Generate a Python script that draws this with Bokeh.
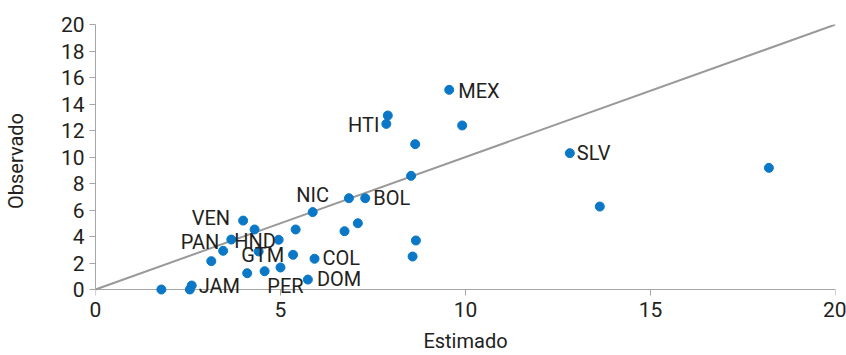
from bokeh.plotting import figure
from bokeh.models import ColumnDataSource, Range1d, FixedTicker
from bokeh.core.properties import value
from bokeh.embed import file_html
from bokeh.resources import INLINE

# ---- data ----
estimado = [1.78, 2.55, 2.60, 3.13, 3.45, 3.67, 3.99, 4.30, 4.41, 4.95, 5.41, 5.34,
            4.10, 4.57, 5.00, 5.74, 5.87, 5.92, 6.73, 7.09, 6.85, 7.29, 8.53, 8.66,
            8.57, 9.56, 7.90, 7.86, 9.91, 8.64, 12.82, 13.63, 18.20]
observado = [0.00, 0.00, 0.30, 2.14, 2.92, 3.77, 5.20, 4.53, 2.87, 3.75, 4.53, 2.62,
             1.23, 1.38, 1.66, 0.75, 5.84, 2.32, 4.40, 5.00, 6.89, 6.89, 8.58, 3.70,
             2.49, 15.07, 13.13, 12.50, 12.38, 10.97, 10.29, 6.26, 9.18]

label_names = ["MEX", "HTI", "SLV", "NIC", "BOL", "VEN", "PAN", "HND", "GTM", "COL", "DOM", "PER", "JAM"]
label_point = [25, 27, 30, 16, 21, 6, 5, 5, 8, 17, 15, 14, 2]

x_ticks = [0, 5, 10, 15, 20]
y_ticks = [0, 2, 4, 6, 8, 10, 12, 14, 16, 18, 20]
x_min, x_max = 0, 20
y_min, y_max = 0, 20
diag = [0, 20]

# ---- label styling (pixel offsets / alignment) ----
label_dx = [9, -7, 7, 0, 8, -13, -12, 3, 4, 8, 9, 5, 7]
label_dy = [1, 1, 0, -17, 0, -3, 2, 1, 4, -1, -1, 18, 0]
label_align = ["left", "right", "left", "center", "left", "right", "right", "left",
               "center", "left", "left", "center", "left"]

FONT = "Roboto"
BLUE = "#0A78C6"
AXIS = "#A6A6A6"
TEXT = "#231F20"

PX_PER_Y = 265 / (y_max - y_min)      # frame pixels per y unit
PAD_PX = 8                            # room below zero so marks on the axis are not clipped
TICK_PX = 6
y_pad = PAD_PX / PX_PER_Y

p = figure(width=846, height=355, output_backend="svg", toolbar_location=None,
           x_range=Range1d(x_min, x_max), y_range=Range1d(y_min - y_pad, y_max),
           min_border_left=94, min_border_right=11, min_border_top=24, min_border_bottom=58)
p.outline_line_color = None
p.xgrid.visible = False
p.ygrid.visible = False
p.background_fill_color = "white"
p.border_fill_color = "white"

# x axis line and ticks drawn at y = 0
p.line([x_min, x_max], [y_min, y_min], line_color=AXIS, line_width=1)
p.segment(x0=x_ticks, y0=[y_min] * len(x_ticks), x1=x_ticks,
          y1=[y_min - TICK_PX / PX_PER_Y] * len(x_ticks), line_color=AXIS, line_width=1)

p.line(diag, diag, line_color="#999999", line_width=2)

src = ColumnDataSource(dict(x=estimado, y=observado))
p.scatter("x", "y", source=src, size=9, fill_color=BLUE, line_color=BLUE)

lsrc = ColumnDataSource(dict(
    x=[estimado[i] for i in label_point],
    y=[observado[i] for i in label_point],
    t=label_names, dx=label_dx, dy=label_dy, al=label_align))
p.text("x", "y", text="t", source=lsrc, x_offset="dx", y_offset="dy", text_align="al",
       text_baseline="middle", text_font=value(FONT), text_font_size="20px",
       text_color=TEXT)

for ax, ticks in ((p.xaxis, x_ticks), (p.yaxis, y_ticks)):
    ax.ticker = FixedTicker(ticks=ticks)
    ax.minor_tick_line_color = None
    ax.major_label_text_font = FONT
    ax.major_label_text_font_size = "21px"
    ax.major_label_text_color = TEXT
    ax.axis_label_text_font = FONT
    ax.axis_label_text_font_size = "20px"
    ax.axis_label_text_font_style = "normal"
    ax.axis_label_text_color = TEXT

# y axis: real axis
p.yaxis.axis_line_color = AXIS
p.yaxis.major_tick_line_color = AXIS
p.yaxis.major_tick_in = 0
p.yaxis.major_tick_out = TICK_PX
p.yaxis.bounds = (y_min, y_max)
p.yaxis.major_label_standoff = 5
p.yaxis.axis_label_standoff = 30
p.yaxis.axis_label = "Observado"

# x axis: only labels (line/ticks drawn above at y = 0)
p.xaxis.axis_line_color = None
p.xaxis.major_tick_line_color = None
p.xaxis.major_tick_in = 0
p.xaxis.major_tick_out = 0
p.xaxis.major_label_standoff = 4
p.xaxis.axis_label_standoff = 9
p.xaxis.axis_label = "Estimado"

open("out.html", "w").write(file_html(p, INLINE))
